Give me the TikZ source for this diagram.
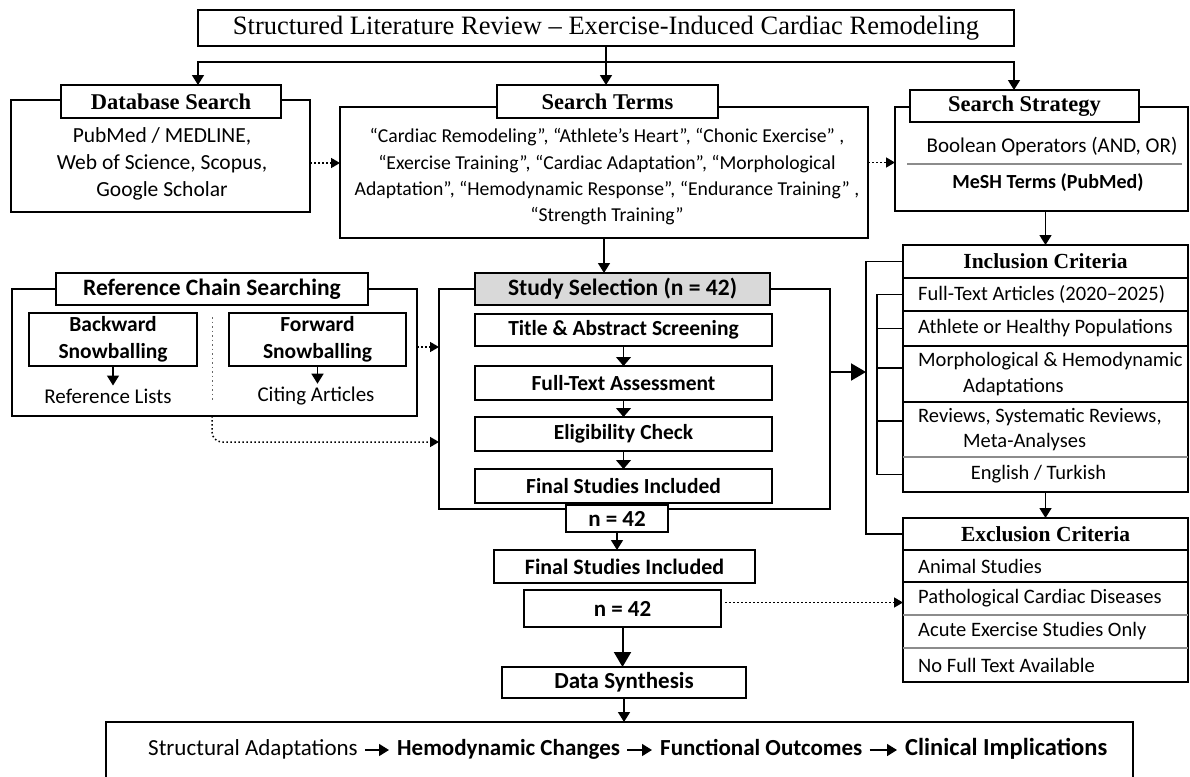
\documentclass[tikz,border=0pt]{standalone}
\usepackage{fontspec}
\setmainfont{Carlito}
\newfontfamily\hdserif{Liberation Serif}
\usepackage{tikz}
\usetikzlibrary{arrows.meta, positioning}
\newcommand{\fsize}[1]{\fontsize{#1}{\dimexpr #1pt*5/4\relax}\selectfont}

\begin{document}
\begin{tikzpicture}[
    x=1pt, y=-1pt,
    line/.style={line width=1.5pt},
    divider/.style={line width=1.2pt, black!45},
    outerbox/.style={draw, line width=1.5pt, inner sep=0pt, outer sep=0pt},
    tagbox/.style={draw, line width=1.5pt, fill=white, inner sep=0pt, outer sep=0pt, align=center, font=\bfseries\fsize{23}},
    serifbox/.style={tagbox, font=\hdserif\bfseries\fsize{22.5}},
    stagebox/.style={tagbox, minimum width=297pt, minimum height=33pt, font=\bfseries\fsize{21.5}},
    txt/.style={inner sep=0pt, align=center, font=\fsize{21}},
    critrow/.style={inner sep=0pt, outer sep=0pt, minimum width=285pt},
    crittext/.style={anchor=west, inner sep=0pt, align=left, font=\fsize{20.5}},
    flow/.style={inner sep=0pt, anchor=west, text height=15pt, text depth=5pt, font=\bfseries\fsize{23}},
    arrow/.style={line width=1.5pt, -{Triangle[width=12pt, length=10pt]}},
    stagearrow/.style={line width=1.2pt, -{Triangle[width=15pt, length=9pt]}},
    bigarrow/.style={line width=2pt, -{Triangle[width=17pt, length=15pt]}},
    dotarrow/.style={line width=1.5pt, dash pattern=on 1.5pt off 2.5pt, -{Triangle[width=10pt, length=9pt]}}
]
\useasboundingbox (0,0) rectangle (1190,776);

% top row
\node[tagbox, minimum width=816pt, minimum height=36pt, font=\hdserif\fsize{26.5}] (title) at (606,28) {Structured Literature Review – Exercise-Induced Cardiac Remodeling};

\node[outerbox, minimum width=299pt, minimum height=112pt] (dbbox) at (160.5,156) {};
\node[serifbox, minimum width=220pt, minimum height=33pt] (dblbl) at (171,101.5) {Database Search};
\node[txt, font=\fsize{21.5}] (dbtext) at (162,164) {PubMed / MEDLINE,\\Web of Science, Scopus,\\Google Scholar};

\node[outerbox, minimum width=528pt, minimum height=131pt] (termsbox) at (604,172.5) {};
\node[serifbox, minimum width=221pt, minimum height=33pt] (termslbl) at (607.5,101.5) {Search Terms};
\node[txt, font={\fontsize{19.7}{26.3}\selectfont}] (termstext) at (607,177) {“Cardiac Remodeling”, “Athlete’s Heart”, “Chonic Exercise” ,\\“Exercise Training”, “Cardiac Adaptation”, “Morphological\\Adaptation”, “Hemodynamic Response”, “Endurance Training” ,\\“Strength Training”};

\node[outerbox, minimum width=293pt, minimum height=104pt] (stratbox) at (1041.5,159) {};
\node[serifbox, minimum width=229pt, minimum height=32pt] (stratlbl) at (1024.5,106) {Search Strategy};
\node[txt] (bool) at (1052,147) {Boolean Operators (AND, OR)};
\node[txt, font=\bfseries\fsize{20}] (mesh) at (1048,183) {MeSH Terms (PubMed)};
\draw[divider] (907,164) -- (1182,164);

\coordinate (fork) at (title.south |- 0,62);
\draw[arrow] (title.south) -- (title.south |- termslbl.north);
\draw[arrow] (fork) -| (dblbl.north -| title.west);
\draw[arrow] (fork) -| (stratlbl.north -| title.east);
\coordinate (d1) at ([yshift=-7pt]dbbox.east);
\draw[dotarrow] (d1) -- (d1 -| termsbox.west);
\coordinate (d2) at ([yshift=10pt]termsbox.east);
\draw[dotarrow] (d2) -- (d2 -| stratbox.west);

% reference chain searching
\node[outerbox, minimum width=405pt, minimum height=127pt] (refbox) at (214.5,352.5) {};
\node[tagbox, minimum width=312pt, minimum height=32pt, font=\bfseries\fsize{23.5}] (reflbl) at (212,289) {Reference Chain Searching};
\node[tagbox, minimum width=168pt, minimum height=53pt, font=\bfseries\fsize{21.5}] (bwd) at (113,339.5) {Backward\\Snowballing};
\node[tagbox, minimum width=177pt, minimum height=53pt, font=\bfseries\fsize{21.5}] (fwd) at (317.5,339.5) {Forward\\Snowballing};
\node[txt, inner sep=3pt] (reflists) at (108,396) {Reference Lists};
\node[txt, inner sep=3pt] (citing) at (316,396) {Citing Articles};
\draw[arrow] (bwd.south) -- (bwd.south |- reflists.north);
\draw[arrow] (fwd.south) -- (fwd.south |- citing.north);
\draw[line width=1pt, black!60, dash pattern=on 1.5pt off 3pt] (212,317) -- (212,402);

% study selection
\node[outerbox, minimum width=391pt, minimum height=220pt] (selbox) at (634.5,399) {};
\node[tagbox, fill=black!15, minimum width=295pt, minimum height=32pt, font=\bfseries\fsize{23.5}] (sellbl) at (622.5,289) {Study Selection (n = 42)};
\node[stagebox, minimum height=32pt] (stage1) at (623.5,330) {Title \& Abstract Screening};
\node[stagebox, minimum height=34pt] (stage2) at (623.5,383) {Full-Text Assessment};
\node[stagebox, minimum height=34pt] (stage3) at (623.5,434) {Eligibility Check};
\node[stagebox, minimum height=34pt] (stage4) at (623.5,486) {Final Studies Included};
\node[tagbox, minimum width=102pt, minimum height=27pt] (n1) at (617,518.5) {n = 42};
\draw[arrow] (termsbox.south) -- (termsbox.south |- sellbl.north);
\draw[stagearrow] (stage1) -- (stage2);
\draw[stagearrow] (stage2) -- (stage3);
\draw[stagearrow] (stage3) -- (stage4);

\coordinate (r1) at ([yshift=5.5pt]refbox.east);
\draw[dotarrow] (r1) -- (r1 -| selbox.west);
\coordinate (r2) at ([yshift=-43pt]selbox.west);
\draw[dotarrow, rounded corners=10pt] ([xshift=-2.5pt]refbox.south) |- (r2);

% criteria
\node[serifbox, minimum width=285pt, minimum height=33pt, font=\hdserif\bfseries\fsize{21.5}] (inchd) at (1045.5,261.5) {Inclusion Criteria};
\node[critrow, minimum height=33pt, below=0pt of inchd] (inc1) {};
\node[critrow, minimum height=35pt, below=0pt of inc1] (inc2) {};
\node[critrow, minimum height=56pt, below=0pt of inc2] (inc3) {};
\node[critrow, minimum height=55pt, below=0pt of inc3] (inc4) {};
\node[critrow, minimum height=35pt, below=0pt of inc4] (inc5) {};
\node[crittext] at ([xshift=15pt]inc1.west) {Full-Text Articles (2020–2025)};
\node[crittext] at ([xshift=15pt]inc2.west) {Athlete or Healthy Populations};
\node[crittext] at ([xshift=15pt]inc3.west) {Morphological \& Hemodynamic\\\hspace*{45pt}Adaptations};
\node[crittext] at ([xshift=15pt]inc4.west) {Reviews, Systematic Reviews,\\\hspace*{45pt}Meta-Analyses};
\node[txt, font=\fsize{20.5}] at ([xshift=-7pt]inc5.center) {English / Turkish};
\draw[line] (inchd.north west) rectangle (inc5.south east);
\draw[line] (inc2.north west) -- (inc2.north east);
\draw[line] (inc3.north west) -- (inc3.north east);
\draw[line] (inc4.north west) -- (inc4.north east);
\draw[divider] (inc5.north west) -- (inc5.north east);

\node[serifbox, minimum width=285pt, minimum height=32pt, font=\hdserif\bfseries\fsize{21.5}] (exchd) at (1045.5,534) {Exclusion Criteria};
\node[critrow, minimum height=32pt, below=0pt of exchd] (exc1) {};
\node[critrow, minimum height=33pt, below=0pt of exc1] (exc2) {};
\node[critrow, minimum height=33pt, below=0pt of exc2] (exc3) {};
\node[critrow, minimum height=34pt, below=0pt of exc3] (exc4) {};
\node[crittext] at ([xshift=15pt]exc1.west) {Animal Studies};
\node[crittext] at ([xshift=15pt]exc2.west) {Pathological Cardiac Diseases};
\node[crittext] at ([xshift=15pt]exc3.west) {Acute Exercise Studies Only};
\node[crittext] at ([xshift=15pt]exc4.west) {No Full Text Available};
\draw[line] (exchd.north west) rectangle (exc4.south east);
\draw[line] (exc2.north west) -- (exc2.north east);
\draw[divider] (exc3.north west) -- (exc3.north east);
\draw[divider] (exc4.north west) -- (exc4.north east);

\draw[arrow] (stratbox.south -| inchd.north) -- (inchd.north);
\draw[arrow] (inc5.south) -- (exchd.north);

% brackets
\coordinate (brk) at ([xshift=-37pt]inchd.west);
\coordinate (brk2) at ([xshift=-26pt]inc1.west);
\draw[line] (inchd.west) -- (brk) |- (exchd.west);
\draw[line] (inc1.west) -- (brk2) |- (inc5.west);
\draw[line] (inc2.west) -- (inc2.west -| brk2);
\coordinate (t3) at ([yshift=6pt]inc3.west);
\draw[line] (t3) -- (t3 -| brk2);
\coordinate (t4) at ([yshift=8.5pt]inc4.west);
\draw[line] (t4) -- (t4 -| brk2);
\coordinate (selout) at ([yshift=27pt]selbox.east);
\draw[bigarrow] (selout) -- (selout -| brk);

% lower chain
\node[tagbox, minimum width=261pt, minimum height=33pt, font=\bfseries\fsize{22}] (final2) at (624.5,566.5) {Final Studies Included};
\node[tagbox, minimum width=197pt, minimum height=37pt] (n2) at (622.5,608.5) {n = 42};
\node[tagbox, minimum width=244pt, minimum height=31pt] (synth) at (624,682.5) {Data Synthesis};
\node[outerbox, minimum width=1027pt, minimum height=68pt] (bottom) at (619.5,756) {};
\draw[arrow] (n1.south) -- (n1.south |- final2.north);
\draw[bigarrow] (n2.south) -- (n2.south |- synth.north);
\draw[arrow] (synth.south) -- (synth.south |- bottom.north);
\coordinate (n2out) at ([xshift=4pt, yshift=6pt]n2.east);
\draw[dotarrow] (n2out) -- (n2out -| exc2.west);

\node[flow, font=\fsize{23}] (sa) at (148,750) {Structural Adaptations};
\node[flow] (hc) at (397,750) {Hemodynamic Changes};
\node[flow] (fo) at (660,750) {Functional Outcomes};
\node[flow, font=\bfseries\fsize{24.5}] (ci) at (905,750) {Clinical Implications};
\draw[arrow] ([xshift=7pt]sa.east) -- ([xshift=-8pt]hc.west);
\draw[arrow] ([xshift=7pt]hc.east) -- ([xshift=-8pt]fo.west);
\draw[arrow] ([xshift=7pt]fo.east) -- ([xshift=-8pt]ci.west);
\end{tikzpicture}
\end{document}
